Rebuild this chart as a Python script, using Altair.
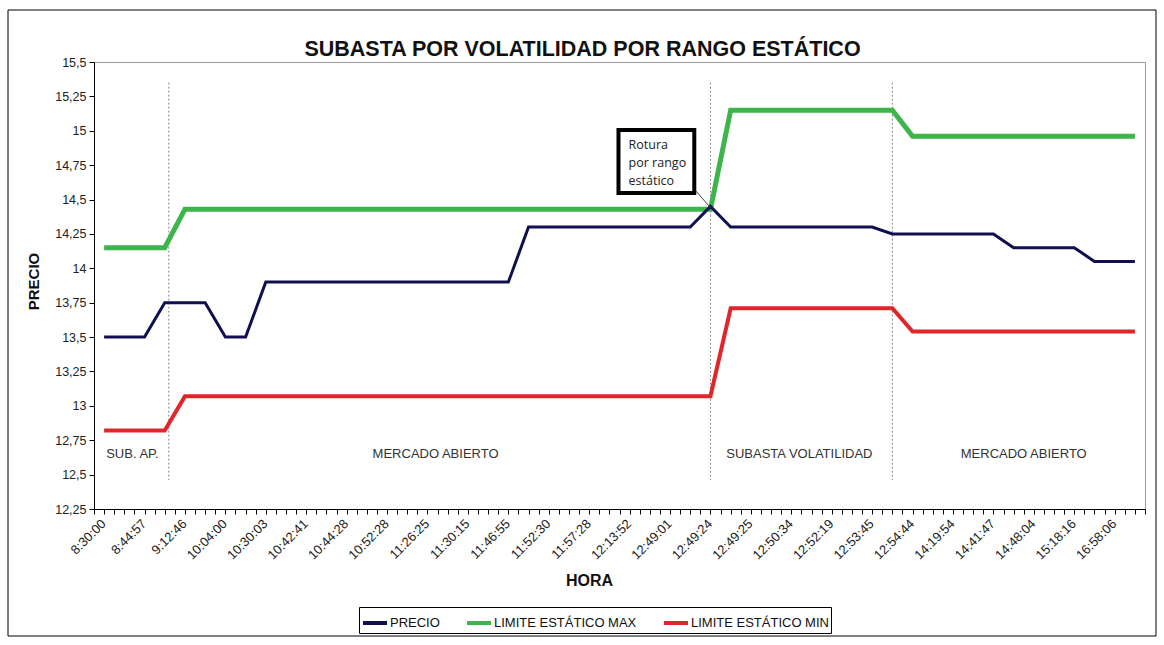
import altair as alt
import pandas as pd

# ---- data ----
hora_labels = ["8:30:00", "8:44:57", "9:12:46", "10:04:00", "10:30:03", "10:42:41",
               "10:44:28", "10:52:28", "11:26:25", "11:30:15", "11:46:55", "11:52:30",
               "11:57:28", "12:13:52", "12:49:01", "12:49:24", "12:49:25", "12:50:34",
               "12:52:19", "12:53:45", "12:54:44", "14:19:54", "14:41:47", "14:48:04",
               "15:18:16", "16:58:06"]

precio = ([13.5] * 3 + [13.75] * 3 + [13.5] * 2 + [13.9] * 13 + [14.3] * 9 + [14.45]
          + [14.3] * 8 + [14.25] * 6 + [14.15] * 4 + [14.05] * 3)
lim_max = [14.15] * 4 + [14.43] * 27 + [15.15] * 9 + [14.96] * 12
lim_min = [12.82] * 4 + [13.07] * 27 + [13.71] * 9 + [13.54] * 12

series_names = ["PRECIO", "LIMITE ESTÁTICO MAX", "LIMITE ESTÁTICO MIN"]
series_colors = ["#101050", "#3db54a", "#e0262b"]

sep_x = [3.2, 30, 39]
region_text = ["SUB. AP.", "MERCADO ABIERTO", "SUBASTA VOLATILIDAD", "MERCADO ABIERTO"]
region_x = [1.4, 16.4, 34.4, 45.5]

note_lines = ["Rotura", "por rango", "estático"]

# ---- tables ----
rows = []
for name, vals in zip(series_names, [precio, lim_max, lim_min]):
    for i, v in enumerate(vals):
        rows.append({"i": i, "serie": name, "valor": v})
df = pd.DataFrame(rows)

sep_df = pd.DataFrame({"x": sep_x, "y": [15.35] * 3, "y2": [12.46] * 3})
reg_df = pd.DataFrame({"x": region_x, "y": [12.65] * 4, "t": region_text})
box_df = pd.DataFrame({"x": [25.45], "x2": [29.2], "y": [15.006], "y2": [14.548]})
lead_df = pd.DataFrame({"x": [29.3], "x2": [30.0], "y": [14.56], "y2": [14.44]})
note_df = pd.DataFrame({"x": [25.95] * 3, "y": [14.897, 14.766, 14.635], "t": note_lines})
frame_df = pd.DataFrame({"a": [0]})

n = len(precio)
x_ticks = [k / 2 for k in range(-1, 2 * n)]
y_ticks = [12.25 + 0.25 * k for k in range(14)]
x_label_expr = "''"
for k in range(len(hora_labels) - 1, -1, -1):
    x_label_expr = "datum.value == %d ? '%s' : (%s)" % (2 * k, hora_labels[k], x_label_expr)

xscale = alt.Scale(domain=[-0.5, n - 0.5], nice=False, zero=False)
yscale = alt.Scale(domain=[12.25, 15.5], nice=False, zero=False)
cscale = alt.Scale(domain=series_names, range=series_colors)

FONT = "Liberation Sans"

x_enc = alt.X("i:Q", scale=xscale, axis=alt.Axis(
    title="HORA", values=x_ticks, tickCount=500, labelExpr=x_label_expr, labelAngle=-45,
    labelFontSize=13, labelColor="#222", tickSize=5, tickColor="#000",
    domainColor="#000", grid=False, labelOverlap=False, labelPadding=3, labelOffset=-5,
    titleFontSize=16, titleFontWeight="bold", titleColor="#111",
    titleX=495, titleY=71, titleBaseline="middle", labelFont=FONT, titleFont=FONT,
    labelBound=False, labelFlush=False))
y_enc = alt.Y("valor:Q", scale=yscale, axis=alt.Axis(
    title="PRECIO", values=y_ticks, tickCount=500, format=".2~f",
    labelExpr="replace(datum.label, '.', ',')", labelOverlap=False,
    labelFontSize=12.5, labelColor="#222", tickSize=5, tickColor="#000",
    domainColor="#000", grid=False, labelPadding=3, titleFontSize=15,
    titleFontWeight="bold", titlePadding=13, titleColor="#111", titleY=219,
    labelFont=FONT, titleFont=FONT, labelFlush=False))

color_enc = alt.Color("serie:N", scale=cscale, title=None, legend=alt.Legend(
    orient="none", legendX=265, legendY=545, direction="horizontal",
    symbolType="stroke", symbolStrokeWidth=4, symbolSize=576,
    labelFontSize=13, labelFont=FONT, labelColor="#111", labelOffset=1,
    columnPadding=19, strokeColor="#000", padding=2, fillColor="white"))

base = alt.Chart(df)
lines = []
for name, w in [("LIMITE ESTÁTICO MAX", 5), ("LIMITE ESTÁTICO MIN", 4), ("PRECIO", 3)]:
    lines.append(base.transform_filter(alt.datum.serie == name)
                 .mark_line(strokeWidth=w, strokeJoin="miter")
                 .encode(x=x_enc, y=y_enc, color=color_enc))

seps = alt.Chart(sep_df).mark_rule(color="#888", strokeDash=[2, 2], strokeWidth=1).encode(
    x=alt.X("x:Q", scale=xscale), y=alt.Y("y:Q", scale=yscale), y2="y2:Q")

regions = alt.Chart(reg_df).mark_text(fontSize=13, font=FONT, color="#333").encode(
    x=alt.X("x:Q", scale=xscale), y=alt.Y("y:Q", scale=yscale), text="t:N")

box = alt.Chart(box_df).mark_rect(fill="white", stroke="black", strokeWidth=4).encode(
    x=alt.X("x:Q", scale=xscale), x2="x2:Q", y=alt.Y("y:Q", scale=yscale), y2="y2:Q")
lead = alt.Chart(lead_df).mark_rule(color="#444", strokeWidth=1).encode(
    x=alt.X("x:Q", scale=xscale), x2="x2:Q", y=alt.Y("y:Q", scale=yscale), y2="y2:Q")
note = alt.Chart(note_df).mark_text(fontSize=12.5, font="Open Sans", color="#222",
                                     align="left").encode(
    x=alt.X("x:Q", scale=xscale), y=alt.Y("y:Q", scale=yscale), text="t:N")

frame = alt.Chart(frame_df).mark_rect(fill="transparent", stroke="black", strokeWidth=1).encode(
    x=alt.value(-86), x2=alt.value(1062), y=alt.value(-52), y2=alt.value(574))

chart = alt.layer(frame, seps, regions, *lines, lead, box, note).properties(
    width=1051, height=447,
    title=alt.TitleParams("SUBASTA POR VOLATILIDAD POR RANGO ESTÁTICO", fontSize=21.5,
                          fontWeight="bold", font=FONT, color="#111", anchor="middle",
                          dx=-37, dy=57, offset=6),
    autosize=alt.AutoSizeParams(type="none"),
    padding={"left": 94, "top": 62, "right": 19, "bottom": 136},
    background="white",
).configure_view(stroke="#999", strokeWidth=1)

chart.save("out.html", embed_options={"renderer": "svg", "actions": False})
